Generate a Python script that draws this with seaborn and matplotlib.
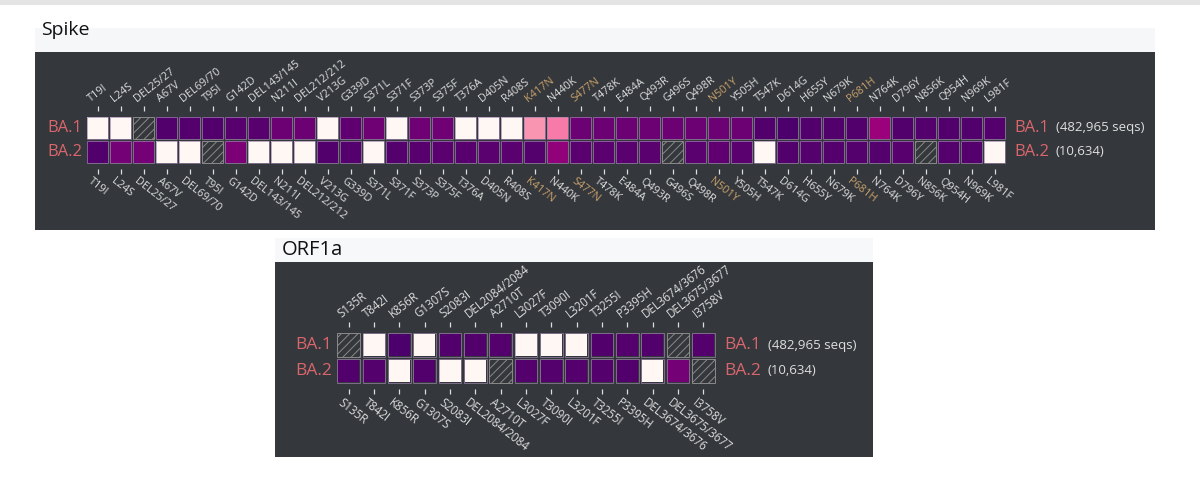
import numpy as np
import pandas as pd
import matplotlib
matplotlib.use("Agg")
import matplotlib.pyplot as plt
from matplotlib.patches import Rectangle
import seaborn as sns

# ---------------- data ----------------
lineages = ["BA.1", "BA.2"]
seq_counts = ["(482,965 seqs)", "(10,634)"]

spike_muts = ["T19I", "L24S", "DEL25/27", "A67V", "DEL69/70", "T95I", "G142D",
              "DEL143/145", "N211I", "DEL212/212", "V213G", "G339D", "S371L",
              "S371F", "S373P", "S375F", "T376A", "D405N", "R408S", "K417N",
              "N440K", "S477N", "T478K", "E484A", "Q493R", "G496S", "Q498R",
              "N501Y", "Y505H", "T547K", "D614G", "H655Y", "N679K", "P681H",
              "N764K", "D796Y", "N856K", "Q954H", "N969K", "L981F"]
spike_ba1 = [0.0, 0.0, np.nan, 0.98, 0.97, 0.98, 0.96, 0.96, 0.91, 0.91, 0.0,
             0.94, 0.9, 0.0, 0.9, 0.9, 0.0, 0.0, 0.0, 0.40, 0.46, 0.91, 0.91,
             0.91, 0.91, 0.91, 0.91, 0.91, 0.91, 0.98, 0.99, 0.98, 0.98, 0.98,
             0.79, 0.98, 0.97, 0.98, 0.98, 0.97]
spike_ba2 = [0.98, 0.89, 0.89, 0.0, 0.0, np.nan, 0.87, 0.0, 0.0, 0.0, 0.98,
             0.97, 0.0, 0.97, 0.96, 0.95, 0.96, 0.95, 0.95, 0.97, 0.82, 0.95,
             0.95, 0.95, 0.95, np.nan, 0.95, 0.94, 0.95, 0.0, 0.98, 0.97, 0.97,
             0.97, 0.97, 0.96, np.nan, 0.97, 0.97, 0.0]

orf_muts = ["S135R", "T842I", "K856R", "G1307S", "S2083I", "DEL2084/2084",
            "A2710T", "L3027F", "T3090I", "L3201F", "T3255I", "P3395H",
            "DEL3674/3676", "DEL3675/3677", "I3758V"]
orf_ba1 = [np.nan, 0.0, 0.99, 0.0, 0.98, 0.98, 0.97, 0.0, 0.0, 0.0, 0.98,
           0.97, 0.98, np.nan, 0.97]
orf_ba2 = [0.98, 0.97, 0.0, 0.98, 0.0, 0.0, np.nan, 0.97, 0.97, 0.97, 0.97,
           0.98, 0.0, 0.89, np.nan]

highlight = ["K417N", "S477N", "N501Y", "P681H"]

# ---------------- style ----------------
PANEL = "#34373b"
LABEL = "#dedede"
HILITE = "#c9a26c"
ROWC = "#d9666d"
W, H = 1200, 479

sns.set_theme(style="white")
plt.rcParams["font.family"] = ["Open Sans", "DejaVu Sans"]
plt.rcParams["hatch.linewidth"] = 0.7

fig = plt.figure(figsize=(W / 100, H / 100), dpi=100)
fig.patch.set_facecolor("white")


def fx(px):
    return px / W


def fy(py):
    return 1 - py / H


def frect(x0, y0, x1, y1, color, z=-2):
    fig.add_artist(Rectangle((fx(x0), fy(y1)), fx(x1 - x0), (y1 - y0) / H,
                             transform=fig.transFigure, facecolor=color,
                             edgecolor="none", zorder=z))


# page decorations
frect(0, 0, 1200, 5, "#e4e4e4")
frect(35, 28, 1155, 52, "#f5f7f9")
frect(35, 52, 1155, 230, PANEL)
frect(275, 238, 873, 262, "#f7f8fa")
frect(275, 262, 873, 457, PANEL)
fig.text(fx(41), fy(30), "Spike", fontsize=14, family="Open Sans",
         color="#111111", ha="left", va="center")
fig.text(fx(282), fy(250), "ORF1a", fontsize=14.5, family="Open Sans",
         color="#111111", ha="left", va="center")


def draw_block(rect_px, muts, v1, v2, fs_mut, fs_row, fs_cnt, tick_gap,
               tick_len, lab_gap, rot, gap_px):
    x0, y0, x1, y1 = rect_px
    ax = fig.add_axes([fx(x0), fy(y1), fx(x1 - x0), (y1 - y0) / H])
    df = pd.DataFrame([v1, v2], index=lineages, columns=muts)
    sns.heatmap(df, ax=ax, cmap="RdPu", vmin=0, vmax=1, cbar=False,
                linewidths=gap_px * 0.72, linecolor=PANEL, square=False)
    ax.set_facecolor(PANEL)
    ax.set_xticks([])
    ax.set_yticks([])
    ax.set_xlabel("")
    ax.set_ylabel("")
    n = len(muts)
    pitch = (x1 - x0) / n
    ins = (gap_px / 2) / pitch
    arr = df.to_numpy()
    for r in range(2):
        for c in range(n):
            if np.isnan(arr[r, c]):
                ax.add_patch(Rectangle((c + ins, r + ins), 1 - 2 * ins,
                                       1 - 2 * ins, facecolor=PANEL,
                                       edgecolor="#8a8a8a", hatch="////",
                                       lw=0.7, zorder=3))
            else:
                ax.add_patch(Rectangle((c + ins, r + ins), 1 - 2 * ins,
                                       1 - 2 * ins, facecolor="none",
                                       edgecolor=(0.62, 0.52, 0.68, 0.7),
                                       lw=0.7, zorder=3))
    hpx = y1 - y0
    xs = np.arange(n) + 0.5
    tr = ax.get_xaxis_transform()
    ax.vlines(xs, 1 + tick_gap / hpx, 1 + (tick_gap + tick_len) / hpx,
              transform=tr, color=LABEL, lw=0.9, clip_on=False)
    ax.vlines(xs, -tick_gap / hpx, -(tick_gap + tick_len) / hpx,
              transform=tr, color=LABEL, lw=0.9, clip_on=False)
    for x, m in zip(xs, muts):
        col = HILITE if m in highlight else LABEL
        ax.text(x - 0.2, 1 + lab_gap / hpx, m, transform=tr, rotation=rot,
                rotation_mode="anchor", ha="left", va="bottom",
                fontsize=fs_mut, color=col, clip_on=False)
        ax.text(x - 0.2, -lab_gap / hpx, m, transform=tr, rotation=-rot,
                rotation_mode="anchor", ha="left", va="top",
                fontsize=fs_mut, color=col, clip_on=False)
    ytr = ax.get_yaxis_transform()
    wpx = x1 - x0
    for r, (lin, cnt) in enumerate(zip(lineages, seq_counts)):
        ax.text(-4 / wpx, r + 0.5, lin, transform=ytr, ha="right",
                va="center", fontsize=fs_row, color=ROWC)
        t = ax.text(1 + 8 / wpx, r + 0.5, lin, transform=ytr, ha="left",
                    va="center", fontsize=fs_row, color=ROWC)
        ax.annotate(cnt, xy=(1, 0.5), xycoords=t, xytext=(5, 0),
                    textcoords="offset points", ha="left", va="center",
                    fontsize=fs_cnt, color=LABEL)
    return ax


draw_block((86, 116, 1006, 164), spike_muts, spike_ba1, spike_ba2,
           fs_mut=7.8, fs_row=12, fs_cnt=9.5, tick_gap=5, tick_len=5,
           lab_gap=12, rot=38, gap_px=2)
draw_block((336, 332, 716, 384), orf_muts, orf_ba1, orf_ba2,
           fs_mut=8.3, fs_row=12.5, fs_cnt=9.5, tick_gap=5, tick_len=5,
           lab_gap=12, rot=38, gap_px=2.5)

fig.savefig("out.png", dpi=100, facecolor="white")
